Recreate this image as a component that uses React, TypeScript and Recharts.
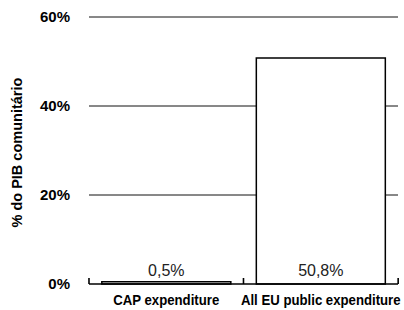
import { BarChart, Bar, XAxis, YAxis, CartesianGrid, LabelList } from "recharts";

const categories = ["CAP expenditure", "All EU public expenditure"];
const shares = [0.5, 50.8];
const shareLabels = ["0,5%", "50,8%"];
const yTicks = [0, 20, 40, 60];

const data = categories.map((name, i) => ({ name, value: shares[i], label: shareLabels[i] }));

const font = "'Liberation Sans', Arial, sans-serif";
const GAP = 0.083;

// value text near the bottom of the bar, plus the small upward marks at the category edges
function BottomLabel(props: any) {
  const { x, y, width, height, index } = props;
  const cx = x + width / 2;
  const base = y + height;
  const band = width / (1 - 2 * GAP);
  const left = x - GAP * band;
  const right = left + band;
  const last = index === data.length - 1;
  return (
    <g>
      <line x1={left} x2={left} y1={base} y2={base - 6} stroke="#000" strokeWidth={1.6} />
      {last && <line x1={right} x2={right} y1={base} y2={base - 6} stroke="#000" strokeWidth={1.6} />}
      <text x={cx} y={base - 8} textAnchor="middle" fill="#222" fontSize={16} fontFamily={font}>
        {data[index].label}
      </text>
    </g>
  );
}

// condensed bold category label
function CategoryTick(props: any) {
  const { x, y, payload } = props;
  return (
    <g transform={`translate(${x},${y}) scale(0.88,1)`}>
      <text x={0} y={0} dy="0.71em" textAnchor="middle" fill="#000" fontSize={15} fontWeight={700} fontFamily={font}>
        {payload.value}
      </text>
    </g>
  );
}

export default function App() {
  return (
    <div style={{ position: "absolute", left: 0, top: 0, width: 404, height: 310, background: "#fff" }}>
      <BarChart width={404} height={310} data={data}
        margin={{ top: 17, right: 6, bottom: 0, left: 0 }} barCategoryGap={`${GAP * 100}%`}>
        <CartesianGrid vertical={false} stroke="#111" strokeWidth={1}
          horizontalValues={[20, 40, 60]} />
        <XAxis dataKey="name" height={26} tickLine={false} axisLine={{ stroke: "#000", strokeWidth: 1.5 }}
          tick={CategoryTick} tickMargin={4} interval={0} />
        <YAxis domain={[0, 60]} ticks={yTicks} width={89} axisLine={false} tickLine={false} tickMargin={13}
          tickFormatter={(v: number) => `${v}%`}
          tick={{ fill: "#000", fontSize: 15, fontWeight: 700, fontFamily: font }}
          label={{ value: "% do PIB comunitário", angle: -90, position: "insideLeft", dx: 12, dy: 77,
            style: { fill: "#000", fontSize: 14.5, fontWeight: 700, fontFamily: font } }} />
        <Bar dataKey="value" fill="#fff" stroke="#000" strokeWidth={1.5} isAnimationActive={false}>
          <LabelList dataKey="label" content={BottomLabel} />
        </Bar>
      </BarChart>
    </div>
  );
}
